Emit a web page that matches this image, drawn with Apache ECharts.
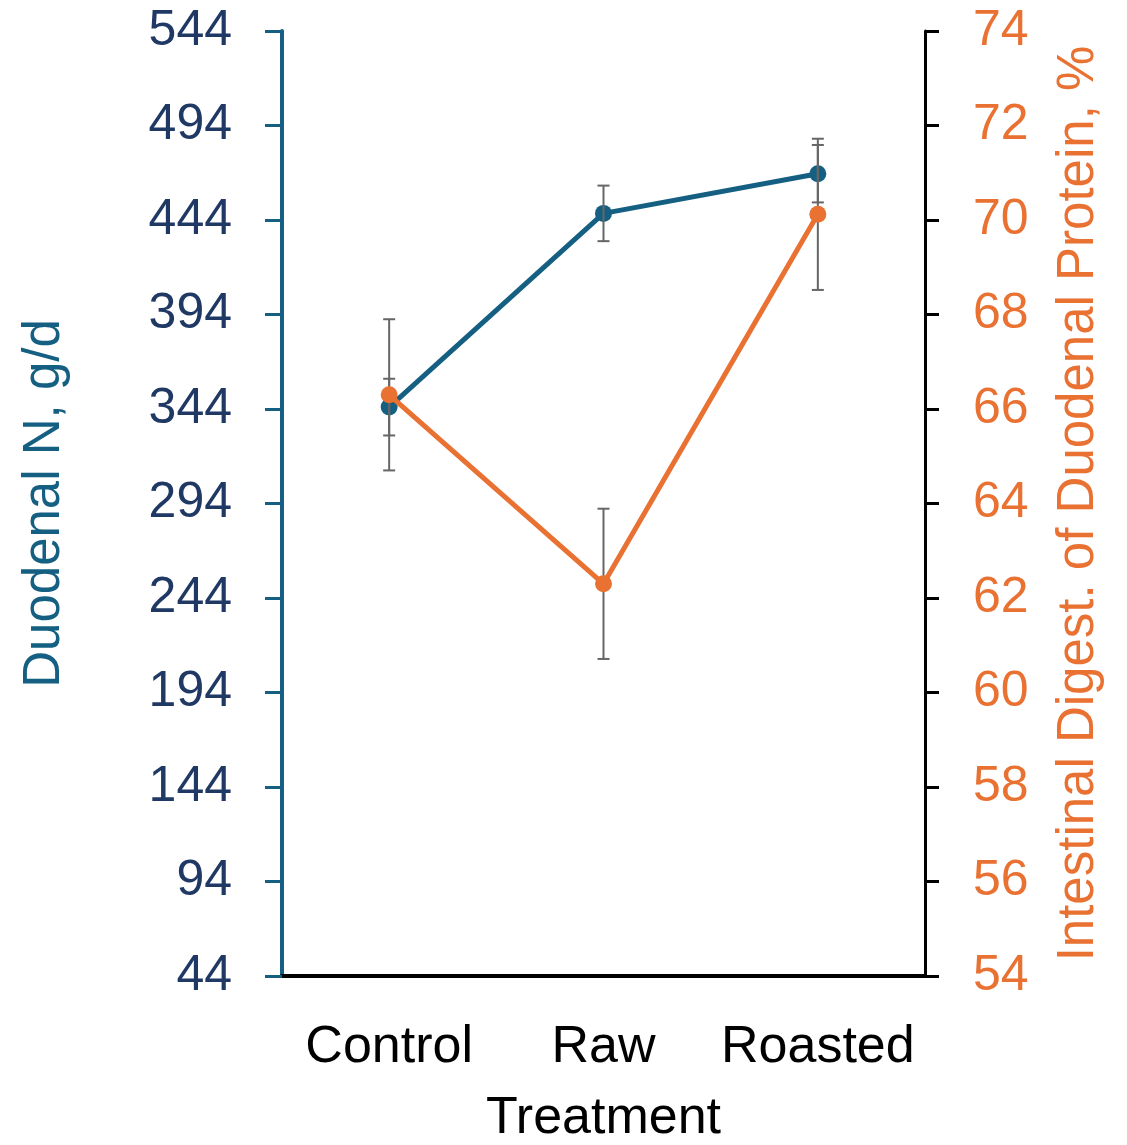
<!DOCTYPE html>
<html>
<head>
<meta charset="utf-8">
<script src="https://cdn.jsdelivr.net/npm/echarts@6/dist/echarts.min.js"></script>
<style>
  html, body { margin: 0; padding: 0; background: #fff; overflow: hidden; }
  #chart { width: 1127px; height: 1145px; }
</style>
</head>
<body>
<div id="chart"></div>
<script>
var treatments = ['Control', 'Raw', 'Roasted'];
var duodenalN = [345, 447.5, 468.5];
var duodenalNErr = [15, 14.7, 15.2];
var digest = [66.3, 62.3, 70.12];
var digestErr = [1.6, 1.59, 1.6];
var leftTicks = [44, 544, 50];
var rightTicks = [54, 74, 2];

var BLUE = '#156082';
var NAVY = '#1f3864';
var ORANGE = '#e97132';
var FONT = 'Liberation Sans';

var chart = echarts.init(document.getElementById('chart'));

function errData(vals, errs) {
    return vals.map(function (v, i) {
        return [i, v - errs[i], v + errs[i]];
    });
}

function renderErr(params, api) {
    var x = api.value(0);
    var lo = api.coord([x, api.value(1)]);
    var hi = api.coord([x, api.value(2)]);
    var w = 6;
    var style = { stroke: '#666', lineWidth: 2 };
    return {
        type: 'group',
        children: [
            { type: 'line', shape: { x1: hi[0], y1: hi[1], x2: lo[0], y2: lo[1] }, style: style },
            { type: 'line', shape: { x1: hi[0] - w, y1: hi[1], x2: hi[0] + w, y2: hi[1] }, style: style },
            { type: 'line', shape: { x1: lo[0] - w, y1: lo[1], x2: lo[0] + w, y2: lo[1] }, style: style }
        ]
    };
}

var option = {
    backgroundColor: '#fff',
    animation: false,
    textStyle: { fontFamily: FONT },
    grid: {
        left: 282, width: 643, top: 31, height: 945,
        containLabel: false,
        outerBoundsMode: 'none'
    },
    xAxis: {
        type: 'category',
        data: treatments,
        boundaryGap: true,
        name: 'Treatment',
        nameLocation: 'middle',
        nameGap: 117,
        nameTextStyle: { fontSize: 52, color: '#000', fontFamily: FONT },
        axisLine: { lineStyle: { color: '#000', width: 4 } },
        axisTick: { show: false },
        axisLabel: { fontSize: 52, color: '#000', margin: 46, interval: 0, fontFamily: FONT }
    },
    yAxis: [{
        type: 'value',
        position: 'left',
        min: leftTicks[0],
        max: leftTicks[1],
        interval: leftTicks[2],
        name: 'Duodenal N, g/d',
        nameLocation: 'middle',
        nameGap: 212,
        nameTextStyle: { fontSize: 51, color: BLUE, fontFamily: FONT },
        axisLine: { show: true, lineStyle: { color: BLUE, width: 4 } },
        axisTick: { show: true, length: 17, lineStyle: { color: BLUE, width: 3 } },
        axisLabel: { fontSize: 50, color: NAVY, margin: 50, fontFamily: FONT },
        splitLine: { show: false }
    }, {
        type: 'value',
        position: 'right',
        min: rightTicks[0],
        max: rightTicks[1],
        interval: rightTicks[2],
        name: 'Intestinal Digest. of Duodenal Protein, %',
        nameLocation: 'middle',
        nameGap: 128,
        nameRotate: 90,
        nameTextStyle: { fontSize: 51, color: ORANGE, fontFamily: FONT },
        axisLine: { show: true, lineStyle: { color: '#000', width: 3 } },
        axisTick: { show: true, length: 14, lineStyle: { color: '#000', width: 3 } },
        axisLabel: { fontSize: 50, color: ORANGE, margin: 48, fontFamily: FONT },
        splitLine: { show: false }
    }],
    series: [{
        name: 'Duodenal N',
        type: 'line',
        yAxisIndex: 0,
        data: duodenalN,
        symbol: 'circle',
        symbolSize: 17,
        lineStyle: { color: BLUE, width: 5 },
        itemStyle: { color: BLUE },
        z: 2
    }, {
        type: 'custom',
        yAxisIndex: 0,
        data: errData(duodenalN, duodenalNErr),
        renderItem: renderErr,
        z: 3
    }, {
        type: 'custom',
        yAxisIndex: 1,
        data: errData(digest, digestErr),
        renderItem: renderErr,
        z: 4
    }, {
        name: 'Intestinal digest.',
        type: 'line',
        yAxisIndex: 1,
        data: digest,
        symbol: 'circle',
        symbolSize: 17,
        lineStyle: { color: ORANGE, width: 5 },
        itemStyle: { color: ORANGE },
        z: 5
    }]
};

chart.setOption(option);
</script>
</body>
</html>
